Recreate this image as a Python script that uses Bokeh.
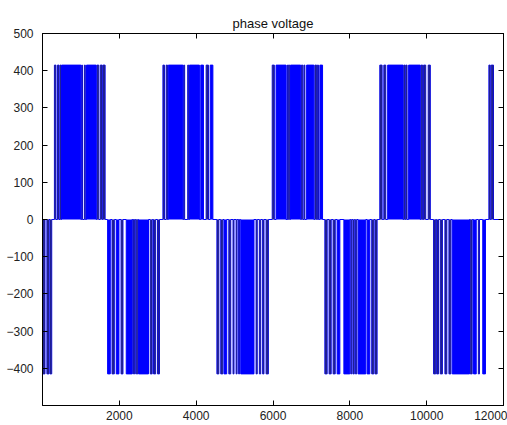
from bokeh.plotting import figure
from bokeh.models import LinearAxis, FixedTicker, Range1d, ColumnDataSource
from bokeh.embed import file_html
from bokeh.resources import INLINE

# ---- data ----
amplitude = 415
n_samples = 12000

pos_pulses = [
    (310, 350), (390, 430), (455, 480), (495, 1000), (1020, 1040), (1090, 1115),
    (1145, 1400), (1420, 1465), (1505, 1555), (1575, 1630),
    (3135, 3175), (3220, 3255), (3275, 3655), (3675, 3700), (3780, 3805),
    (3825, 4085), (4120, 4190), (4260, 4320), (4365, 4435),
    (5980, 6035), (6080, 6340), (6365, 6380), (6400, 6435), (6455, 6720),
    (6740, 6775), (6805, 6830), (6875, 7065), (7090, 7135), (7155, 7185), (7220, 7290),
    (8780, 8840), (8885, 8935), (8985, 9385), (9405, 9435), (9455, 9490),
    (9530, 9835), (9855, 9895), (9920, 9975), (10040, 10095),
    (11620, 11655), (11680, 11740),
]
neg_pulses = [
    (10, 65), (115, 170), (195, 240),
    (1695, 1765), (1810, 1870), (1920, 1990), (2045, 2095), (2180, 2330),
    (2350, 2370), (2390, 2415), (2440, 2480), (2500, 2760), (2805, 2855),
    (2890, 2945), (2995, 3045),
    (4540, 4590), (4640, 4695), (4725, 4795), (4850, 4900), (4960, 4985),
    (5040, 5065), (5105, 5130), (5160, 5505), (5560, 5590), (5645, 5680),
    (5730, 5765), (5820, 5880),
    (7350, 7410), (7460, 7515), (7565, 7620), (7670, 7740), (7845, 8000),
    (8025, 8050), (8080, 8115), (8145, 8180), (8215, 8415), (8450, 8520),
    (8570, 8625), (8655, 8710),
    (10180, 10235), (10260, 10310), (10355, 10410), (10475, 10525),
    (10580, 10630), (10665, 11115), (11135, 11185), (11220, 11290),
    (11345, 11375), (11460, 11530),
]
x_ticks = [2000, 4000, 6000, 8000, 10000, 12000]
y_ticks = [-400, -300, -200, -100, 0, 100, 200, 300, 400, 500]
title_text = "phase voltage"

# ---- build waveform ----
events = [(s, e, amplitude) for s, e in pos_pulses] + [(s, e, -amplitude) for s, e in neg_pulses]
events.sort()
xs, ys = [0], [0]
for s, e, v in events:
    xs += [s, s, e, e]
    ys += [0, v, v, 0]
xs.append(n_samples)
ys.append(0)

left = [s for s, e, v in events]
right = [e for s, e, v in events]
top = [max(v, 0) for s, e, v in events]
bottom = [min(v, 0) for s, e, v in events]
color = ["#1e1e94" if (e - s) < 70 else "#0000ff" for s, e, v in events]
src = ColumnDataSource(dict(left=left, right=right, top=top, bottom=bottom, color=color))

FONT = "Liberation Sans"

p = figure(width=507, height=425, output_backend="svg", toolbar_location=None,
           x_range=Range1d(0, 12000), y_range=Range1d(-500, 500),
           min_border_left=42, min_border_right=4, min_border_top=33, min_border_bottom=20)
p.title.text = title_text
p.title.align = "center"
p.title.text_font = FONT
p.title.text_font_size = "13px"
p.title.text_font_style = "normal"
p.title.text_color = "#111111"
p.title.standoff = 6

p.line(xs, ys, line_color="#0000ff", line_width=1)
p.quad(left="left", right="right", top="top", bottom="bottom", fill_color="color",
       line_color=None, source=src)

p.xgrid.visible = False
p.ygrid.visible = False
p.outline_line_color = "black"
p.outline_line_width = 1
p.background_fill_color = "white"
p.border_fill_color = "white"

for ax, ticks in ((p.xaxis[0], x_ticks), (p.yaxis[0], y_ticks)):
    ax.ticker = FixedTicker(ticks=ticks)
    ax.major_tick_in = 5
    ax.major_tick_out = 0
    ax.minor_tick_line_color = None
    ax.axis_line_color = "black"
    ax.major_tick_line_color = "black"
    ax.major_label_text_font = FONT
    ax.major_label_text_font_size = "12px"
    ax.major_label_text_color = "#222222"
p.xaxis[0].major_label_standoff = 5
p.yaxis[0].major_label_standoff = 9

top_ax = LinearAxis(ticker=FixedTicker(ticks=[], minor_ticks=x_ticks),
                    minor_tick_in=5, minor_tick_out=0, minor_tick_line_color="black",
                    major_tick_line_color=None, major_label_standoff=0, axis_line_color="black")
right_ax = LinearAxis(ticker=FixedTicker(ticks=[], minor_ticks=y_ticks),
                      minor_tick_in=5, minor_tick_out=0, minor_tick_line_color="black",
                      major_tick_line_color=None, major_label_standoff=0, axis_line_color="black")
p.add_layout(top_ax, "above")
p.add_layout(right_ax, "right")

open("out.html", "w").write(file_html(p, INLINE))
